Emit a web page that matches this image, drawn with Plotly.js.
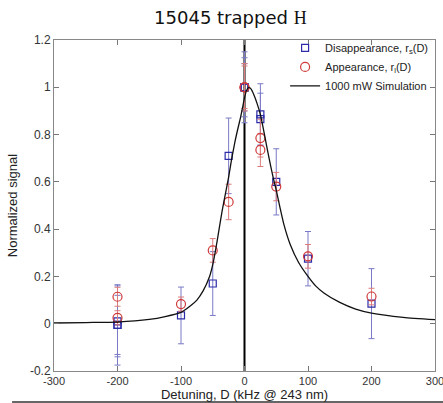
<!DOCTYPE html>
<html>
<head>
<meta charset="utf-8">
<script src="https://cdn.plot.ly/plotly-3.0.1.min.js"></script>
<style>html,body{margin:0;padding:0;background:#fff;}#chart{width:443px;height:403px;}</style>
</head>
<body>
<div id="chart"></div>
<script>
// Disappearance r_s(D) (blue squares)
const disX   = [-200, -200, -200, -100, -50, -25, 0, 0, 0, 25, 25, 50, 100, 200];
const disY   = [-0.005, 0.01, -0.005, 0.035, 0.17, 0.71, 1.0, 1.0, 1.0, 0.885, 0.865, 0.60, 0.275, 0.085];
const disErr = [0.17, 0.15, 0.125, 0.12, 0.135, 0.16, 0.15, 0.125, 0.10, 0.13, 0.11, 0.14, 0.115, 0.148];

// Appearance r_l(D) (red circles)
const appX   = [-200, -200, -100, -50, -25, 0, 0, 25, 25, 50, 100, 200];
const appY   = [0.114, 0.025, 0.083, 0.31, 0.515, 1.0, 1.0, 0.785, 0.735, 0.58, 0.285, 0.115];
const appErr = [0.04, 0.03, 0.03, 0.05, 0.075, 0.09, 0.10, 0.08, 0.07, 0.06, 0.05, 0.035];

// 1000 mW simulation curve
const simX = [-300, -250, -200, -150, -125, -100, -85, -75, -65, -55, -50, -45, -40, -35, -30, -25, -20, -15, -10, -6, -3, 0, 3, 6, 9, 12, 16, 20, 25, 30, 35, 41, 45, 50, 56, 62, 72, 85, 100, 112, 125, 150, 175, 200, 250, 300];
const simY = [0.003, 0.005, 0.007, 0.018, 0.03, 0.048, 0.076, 0.10, 0.14, 0.20, 0.25, 0.32, 0.40, 0.48, 0.55, 0.62, 0.70, 0.77, 0.83, 0.875, 0.915, 0.955, 0.985, 0.998, 0.997, 0.985, 0.96, 0.93, 0.885, 0.82, 0.75, 0.67, 0.62, 0.565, 0.49, 0.42, 0.335, 0.26, 0.20, 0.16, 0.13, 0.09, 0.062, 0.045, 0.027, 0.017];

const xTicks = [-300, -200, -100, 0, 100, 200, 300];
const yTicks = [-0.2, 0, 0.2, 0.4, 0.6, 0.8, 1, 1.2];

const traces = [
  {
    x: disX, y: disY, type: 'scatter', mode: 'markers',
    name: 'Disappearance, r<sub>s</sub>(D)',
    marker: {symbol: 'square-open', size: 7, color: '#2c2caa', line: {width: 1.2, color: '#2c2caa'}},
    error_y: {type: 'data', array: disErr, visible: true, color: '#7a7ac8', thickness: 1, width: 3}
  },
  {
    x: appX, y: appY, type: 'scatter', mode: 'markers',
    name: 'Appearance, r<sub>l</sub>(D)',
    marker: {symbol: 'circle-open', size: 9, color: '#d03a3a', line: {width: 1.2, color: '#d03a3a'}},
    error_y: {type: 'data', array: appErr, visible: true, color: '#dc7c7c', thickness: 1, width: 3}
  },
  {
    x: simX, y: simY, type: 'scatter', mode: 'lines',
    name: '1000 mW Simulation',
    line: {color: '#111111', width: 1.3, shape: 'spline', smoothing: 0.6}
  }
];

const layout = {
  width: 443, height: 403,
  margin: {l: 54, r: 8, t: 40, b: 32},
  paper_bgcolor: '#ffffff', plot_bgcolor: '#ffffff',
  showlegend: true,
  title: {
    text: '15045 trapped <span style="font-family:\'Liberation Serif\', serif">H</span>',
    font: {family: 'DejaVu Sans, Verdana, sans-serif', size: 18, color: '#111'},
    x: 0.52, xanchor: 'center', y: 0.955, yanchor: 'middle'
  },
  xaxis: {
    range: [-300, 300], tickvals: xTicks, ticktext: xTicks.map(String),
    ticks: 'inside', ticklen: 5, tickcolor: '#777', showline: true, linecolor: '#888', linewidth: 1,
    mirror: 'allticks', showgrid: false, zeroline: false, ticklabeloverflow: 'allow',
    tickfont: {family: 'Liberation Sans, Arial, sans-serif', size: 11, color: '#333'},
    title: {text: 'Detuning, D (kHz @ 243 nm)', font: {family: 'Liberation Sans, Arial, sans-serif', size: 13, color: '#222'}, standoff: 0}
  },
  yaxis: {
    range: [-0.2, 1.2], tickvals: yTicks, ticktext: ['-0.2', '0', '0.2', '0.4', '0.6', '0.8', '1', '1.2'],
    ticks: 'inside', ticklen: 5, tickcolor: '#777', showline: true, linecolor: '#888', linewidth: 1,
    mirror: 'allticks', showgrid: false, zeroline: false,
    tickfont: {family: 'Liberation Sans, Arial, sans-serif', size: 12, color: '#333'},
    title: {text: 'Normalized signal', font: {family: 'Liberation Sans, Arial, sans-serif', size: 13, color: '#222'}, standoff: 9}
  },
  legend: {
    x: 0.995, xanchor: 'right', y: 1.02, yanchor: 'top',
    bgcolor: 'rgba(0,0,0,0)', borderwidth: 0,
    font: {family: 'Liberation Sans, Arial, sans-serif', size: 11, color: '#222'},
    tracegroupgap: 0
  },
  shapes: [
    {type: 'line', xref: 'x', yref: 'y', x0: 0, x1: 0, y0: -0.2, y1: 1.2, layer: 'below', line: {color: '#000', width: 2}},
    {type: 'line', xref: 'paper', yref: 'paper', x0: -0.11, x1: 1.03, y0: -0.0935, y1: -0.0935, line: {color: '#333', width: 1.6}}
  ]
};

Plotly.newPlot('chart', traces, layout, {displayModeBar: false, staticPlot: true});
</script>
</body>
</html>
